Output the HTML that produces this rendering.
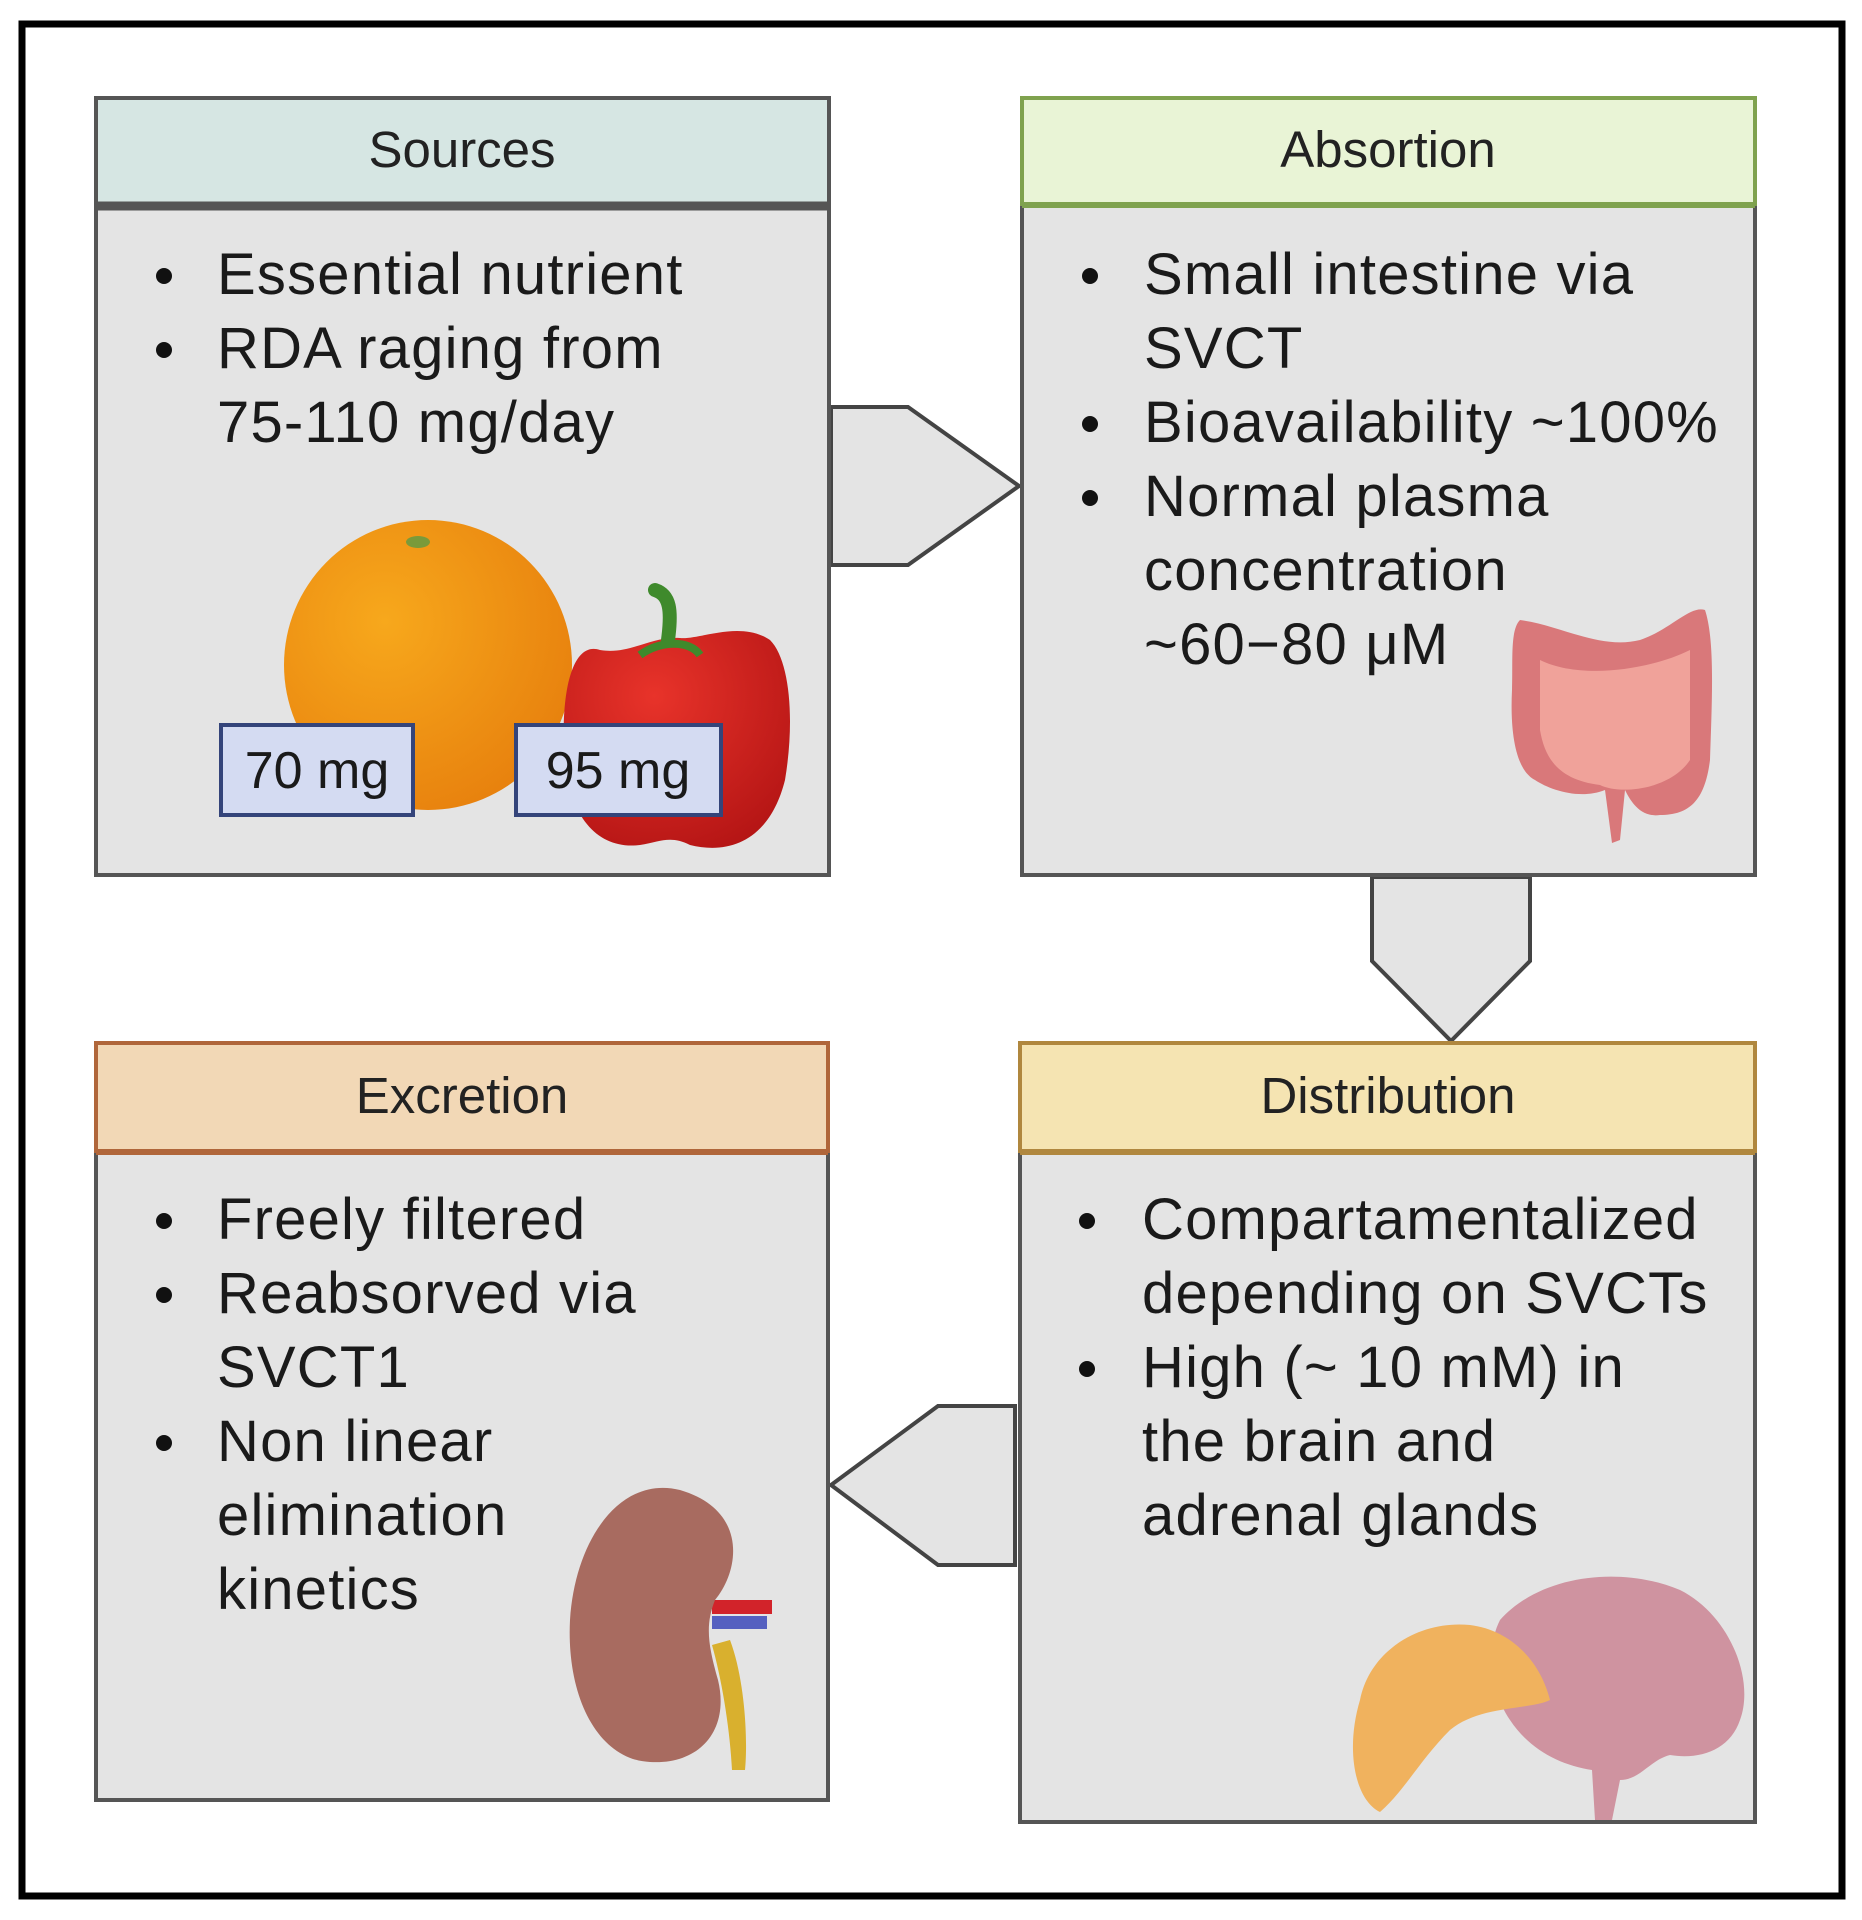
<!DOCTYPE html>
<html><head><meta charset="utf-8"><style>
html,body{margin:0;padding:0;background:#fff}
svg{display:block}
text{font-family:"Liberation Sans",sans-serif;fill:#1a1a1a}
.t{font-size:58px;letter-spacing:1.2px}
.h{font-size:51px;text-anchor:middle;fill:#222}
</style></head><body>
<svg width="1862" height="1920" viewBox="0 0 1862 1920" xmlns="http://www.w3.org/2000/svg">
<rect x="0" y="0" width="1862" height="1920" fill="#fff"/>
<rect x="22" y="24" width="1820" height="1872" fill="#fff" stroke="#000" stroke-width="7"/>

<polygon points="831,407 908,407 1019,486 908,565 831,565" fill="#e4e4e4" stroke="#444" stroke-width="4"/>
<polygon points="1372,877 1530,877 1530,961 1451,1041 1372,961" fill="#e4e4e4" stroke="#444" stroke-width="4"/>
<polygon points="1015,1406 938,1406 831,1485 938,1565 1015,1565" fill="#e4e4e4" stroke="#444" stroke-width="4"/>

<rect x="96" y="204" width="733" height="671" fill="#e4e4e4" stroke="#555" stroke-width="4"/>
<rect x="96" y="98" width="733" height="106" fill="#d6e6e3" stroke="#555" stroke-width="4"/>
<line x1="96" y1="206" x2="829" y2="206" stroke="#555" stroke-width="9"/>
<text class="h" x="462" y="167">Sources</text>
<circle cx="164" cy="276" r="8" fill="#111"/><text class="t" x="217" y="294">Essential nutrient</text>
<circle cx="164" cy="350" r="8" fill="#111"/><text class="t" x="217" y="368">RDA raging from</text>
<text class="t" x="217" y="442">75-110 mg/day</text>

<defs>
<radialGradient id="og" cx="0.35" cy="0.35" r="0.7"><stop offset="0" stop-color="#f7a81c"/><stop offset="1" stop-color="#e8820e"/></radialGradient>
<radialGradient id="pg" cx="0.4" cy="0.3" r="0.8"><stop offset="0" stop-color="#e8332a"/><stop offset="1" stop-color="#b31414"/></radialGradient>
</defs>
<ellipse cx="428" cy="665" rx="144" ry="145" fill="url(#og)"/>
<ellipse cx="418" cy="542" rx="12" ry="6" fill="#7a9a3a"/>
<path d="M600,650 C570,640 560,700 565,760 C570,820 600,850 640,845 C660,842 670,835 690,845 C730,855 770,840 785,780 C795,720 790,660 770,640 C740,620 700,640 680,638 C650,636 630,655 600,650 Z" fill="url(#pg)"/>
<path d="M668,640 C672,610 670,595 655,590" stroke="#3f8a2c" stroke-width="14" fill="none" stroke-linecap="round"/>
<path d="M640,655 C660,640 690,640 700,655" stroke="#3f8a2c" stroke-width="8" fill="none"/>
<rect x="221" y="725" width="192" height="90" fill="#d4dbf2" stroke="#34447a" stroke-width="4"/>
<text x="317" y="788" style="font-size:52px;text-anchor:middle">70 mg</text>
<rect x="516" y="725" width="205" height="90" fill="#d4dbf2" stroke="#34447a" stroke-width="4"/>
<text x="618" y="788" style="font-size:52px;text-anchor:middle">95 mg</text>

<rect x="1022" y="204" width="733" height="671" fill="#e4e4e4" stroke="#555" stroke-width="4"/>
<rect x="1022" y="98" width="733" height="106" fill="#e9f4d6" stroke="#7fa24e" stroke-width="4"/>
<line x1="1022" y1="205" x2="1755" y2="205" stroke="#7fa24e" stroke-width="6"/>
<text class="h" x="1388" y="167">Absortion</text>
<circle cx="1090" cy="276" r="8" fill="#111"/><text class="t" x="1144" y="294">Small intestine via</text>
<text class="t" x="1144" y="368">SVCT</text>
<circle cx="1090" cy="424" r="8" fill="#111"/><text class="t" x="1144" y="442">Bioavailability ~100%</text>
<circle cx="1090" cy="498" r="8" fill="#111"/><text class="t" x="1144" y="516">Normal plasma</text>
<text class="t" x="1144" y="590">concentration</text>
<text class="t" x="1144" y="664">~60−80 μM</text>
<path d="M1520,620 C1560,625 1600,650 1640,640 C1670,630 1690,605 1705,610 C1715,640 1712,700 1710,760 C1705,800 1690,815 1660,815 C1640,818 1630,800 1625,790 L1620,840 L1612,843 L1605,790 C1580,800 1550,790 1535,780 C1515,770 1510,730 1512,690 C1513,660 1510,630 1520,620 Z" fill="#d9787a"/>
<path d="M1540,660 C1580,680 1650,670 1690,650 L1690,760 C1670,790 1620,795 1600,785 C1560,780 1545,760 1540,730 Z" fill="#f0a29a"/>

<rect x="96" y="1151" width="732" height="649" fill="#e4e4e4" stroke="#555" stroke-width="4"/>
<rect x="96" y="1043" width="732" height="108" fill="#f2d8b6" stroke="#b0663a" stroke-width="4"/>
<line x1="96" y1="1152" x2="828" y2="1152" stroke="#b0663a" stroke-width="6"/>
<text class="h" x="462" y="1113">Excretion</text>
<circle cx="164" cy="1221" r="8" fill="#111"/><text class="t" x="217" y="1239">Freely filtered</text>
<circle cx="164" cy="1295" r="8" fill="#111"/><text class="t" x="217" y="1313">Reabsorved via</text>
<text class="t" x="217" y="1387">SVCT1</text>
<circle cx="164" cy="1443" r="8" fill="#111"/><text class="t" x="217" y="1461">Non linear</text>
<text class="t" x="217" y="1535">elimination</text>
<text class="t" x="217" y="1609">kinetics</text>
<path d="M730,1640 C745,1680 748,1740 745,1770 L732,1770 C730,1730 722,1680 712,1645 Z" fill="#d9b02e"/>
<rect x="712" y="1600" width="60" height="14" fill="#d2232a"/>
<rect x="712" y="1616" width="55" height="13" fill="#5560c0"/>
<path d="M680,1490 C620,1475 575,1540 570,1620 C566,1700 600,1760 650,1762 C700,1765 730,1730 718,1680 C708,1645 705,1625 715,1600 C740,1570 748,1510 680,1490 Z" fill="#a86b60"/>

<rect x="1020" y="1151" width="735" height="671" fill="#e4e4e4" stroke="#555" stroke-width="4"/>
<rect x="1020" y="1043" width="735" height="108" fill="#f5e4b2" stroke="#b0873e" stroke-width="4"/>
<line x1="1020" y1="1152" x2="1755" y2="1152" stroke="#b0873e" stroke-width="6"/>
<text class="h" x="1388" y="1113">Distribution</text>
<circle cx="1087" cy="1221" r="8" fill="#111"/><text class="t" x="1142" y="1239">Compartamentalized</text>
<text class="t" x="1142" y="1313">depending on SVCTs</text>
<circle cx="1087" cy="1369" r="8" fill="#111"/><text class="t" x="1142" y="1387">High (~ 10 mM) in</text>
<text class="t" x="1142" y="1461">the brain and</text>
<text class="t" x="1142" y="1535">adrenal glands</text>
<path d="M1500,1620 C1540,1575 1620,1565 1680,1590 C1730,1615 1755,1680 1740,1720 C1730,1750 1700,1760 1670,1755 C1650,1760 1640,1780 1620,1780 L1612,1820 L1595,1820 L1592,1770 C1560,1765 1530,1750 1510,1720 C1490,1690 1485,1650 1500,1620 Z" fill="#cf93a0"/>
<path d="M1360,1700 C1370,1650 1420,1620 1470,1625 C1510,1630 1540,1660 1550,1700 C1530,1710 1480,1705 1450,1730 C1420,1760 1405,1790 1380,1812 C1355,1800 1345,1750 1360,1700 Z" fill="#f0b25e"/>
</svg>
</body></html>
